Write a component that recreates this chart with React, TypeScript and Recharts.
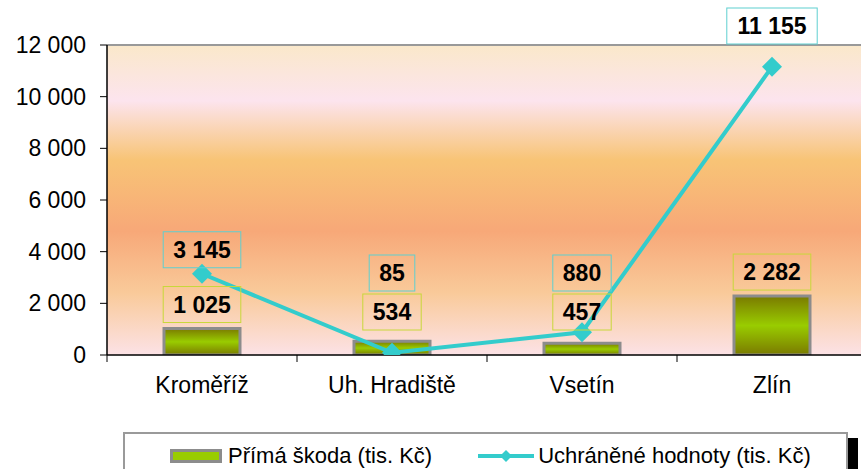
import React from "react";
import { ComposedChart, Bar, Line, XAxis, YAxis, CartesianGrid, ReferenceLine, LabelList, Legend } from "recharts";

const categories = ["Kroměříž", "Uh. Hradiště", "Vsetín", "Zlín"];
const directDamage = [1025, 534, 457, 2282];
const savedValues = [3145, 85, 880, 11155];
const yTicks = [0, 2000, 4000, 6000, 8000, 10000, 12000];

const data = categories.map((name, i) => ({ name, damage: directDamage[i], saved: savedValues[i] }));

const FONT = "'Liberation Sans', Arial, sans-serif";
const CHART_W = 870;
const CHART_H = 469;
const MARGIN = { top: 45, right: 3, left: 0, bottom: 19 };
const Y_AXIS_W = 107;
const PLOT_W = CHART_W - MARGIN.left - MARGIN.right - Y_AXIS_W;
const PLOT_TOP = 45;
const PLOT_BOTTOM = 355;
const Y_MAX = 12000;

const fmt = (v: number) => String(v).replace(/\B(?=(\d{3})+(?!\d))/g, " ");

// rough bold width for digit labels
const textW = (s: string) => s.split("").reduce((w, c) => w + (c === " " ? 6.4 : 12.8), 0);
const yPix = (v: number) => PLOT_BOTTOM - (v / Y_MAX) * (PLOT_BOTTOM - PLOT_TOP);
const BOX_H = 36;

const barBoxBottom = (top: number) => Math.min(top - 6, PLOT_BOTTOM - 25);

const LabelBox = ({ cx, bottom, text, color }: { cx: number; bottom: number; text: string; color: string }) => {
    const w = textW(text) + 20;
    // labels that would cross the top border go above the plot
    const b = bottom - BOX_H < PLOT_TOP ? PLOT_TOP - 1 : bottom;
    return (
        <g>
            <rect x={cx - w / 2} y={b - BOX_H} width={w} height={BOX_H} fill="none" stroke={color} strokeWidth={1} />
            <text x={cx} y={b - BOX_H / 2 + 8} textAnchor="middle" fontFamily={FONT} fontWeight="bold" fontSize={23} fill="#000">
                {text}
            </text>
        </g>
    );
};

const BarLabel = (props: any) => {
    const { x, y, width, value } = props;
    return <LabelBox cx={x + width / 2} bottom={barBoxBottom(y)} text={fmt(value)} color="#C8D83A" />;
};

const LineLabel = (props: any) => {
    const { x, y, value, index } = props;
    const barTop = barBoxBottom(yPix(directDamage[index])) - BOX_H;
    return <LabelBox cx={x} bottom={Math.min(y - 6, barTop - 3)} text={fmt(value)} color="#5ECFD0" />;
};

const DiamondDot = (props: any) => {
    const { cx, cy } = props;
    if (cx == null || cy == null) return null;
    const r = 10;
    return <polygon points={`${cx},${cy - r} ${cx + r},${cy} ${cx},${cy + r} ${cx - r},${cy}`} fill="#33CCCC" />;
};

const XTick = (props: any) => {
    const { x, y, payload, index } = props;
    const band = PLOT_W / categories.length;
    return (
        <g>
            <line x1={x - band / 2} y1={y} x2={x - band / 2} y2={y + 7} stroke="#000" />
            {index === categories.length - 1 && <line x1={x + band / 2} y1={y} x2={x + band / 2} y2={y + 7} stroke="#000" />}
            <text x={x} y={y + 38} textAnchor="middle" fontFamily={FONT} fontSize={23} fill="#000">
                {payload.value}
            </text>
        </g>
    );
};

const ChartLegend = () => (
    <div
        style={{
            width: 725,
            height: 45,
            boxSizing: "border-box",
            border: "2px solid #9a9a9a",
            background: "#fff",
            boxShadow: "10px 6px 0 #000",
            display: "flex",
            alignItems: "center",
            paddingLeft: 45,
            paddingTop: 3,
            fontFamily: FONT,
            fontSize: 22,
            lineHeight: "24px",
            color: "#000",
        }}
    >
        <svg width={52} height={14} style={{ marginRight: 6 }}>
            <rect x={1.5} y={1.5} width={49} height={11} fill="#99CC00" stroke="#8c8c8c" strokeWidth={3} />
        </svg>
        <span>Přímá škoda (tis. Kč)</span>
        <svg width={56} height={14} style={{ marginLeft: 46, marginRight: 4 }}>
            <line x1={0} y1={7} x2={56} y2={7} stroke="#33CCCC" strokeWidth={4} />
            <polygon points="28,1 34,7 28,13 22,7" fill="#33CCCC" />
        </svg>
        <span>Uchráněné hodnoty (tis. Kč)</span>
    </div>
);

export default function App() {
    return (
        <div style={{ position: "absolute", left: 0, top: 0, width: 861, height: 469, overflow: "hidden", background: "#fff" }}>
            <ComposedChart width={CHART_W} height={CHART_H} data={data} margin={MARGIN}>
                <defs>
                    <linearGradient id="bgGrad" x1="0" y1="0" x2="0" y2="1">
                        <stop offset="0%" stopColor="#FAE8CA" />
                        <stop offset="18%" stopColor="#FCE4EE" />
                        <stop offset="37%" stopColor="#F8C476" />
                        <stop offset="60%" stopColor="#F7A878" />
                        <stop offset="80%" stopColor="#F9CA9A" />
                        <stop offset="100%" stopColor="#FCE2E6" />
                    </linearGradient>
                    <linearGradient id="barGrad" x1="0" y1="0" x2="0" y2="1">
                        <stop offset="0%" stopColor="#7A7A00" />
                        <stop offset="50%" stopColor="#99CC00" />
                        <stop offset="100%" stopColor="#7A7A00" />
                    </linearGradient>
                </defs>
                <CartesianGrid fill="url(#bgGrad)" horizontal={false} vertical={false} stroke="none" />
                <ReferenceLine y={12000} stroke="#999" strokeWidth={2} />
                <XAxis
                    dataKey="name"
                    height={50}
                    tickSize={0}
                    tickMargin={0}
                    tickLine={false}
                    axisLine={{ stroke: "#000", strokeWidth: 1.5 }}
                    tick={<XTick />}
                    interval={0}
                />
                <YAxis
                    width={Y_AXIS_W}
                    domain={[0, Y_MAX]}
                    ticks={yTicks}
                    tickSize={7}
                    tickMargin={14}
                    tickFormatter={fmt}
                    axisLine={{ stroke: "#000", strokeWidth: 1.5 }}
                    tickLine={{ stroke: "#000" }}
                    tick={{ fontSize: 23, fontFamily: FONT, fill: "#000" }}
                    allowDataOverflow
                />
                <Legend
                    verticalAlign="bottom"
                    content={<ChartLegend />}
                    wrapperStyle={{ left: 123, top: 432, bottom: "auto", width: 735, height: 45 }}
                />
                <Bar dataKey="damage" barSize={76} fill="url(#barGrad)" stroke="#8c8c8c" strokeWidth={3} isAnimationActive={false}>
                    <LabelList dataKey="damage" content={<BarLabel />} />
                </Bar>
                <Line
                    type="linear"
                    dataKey="saved"
                    stroke="#33CCCC"
                    strokeWidth={4}
                    dot={<DiamondDot />}
                    activeDot={false}
                    isAnimationActive={false}
                >
                    <LabelList dataKey="saved" content={<LineLabel />} />
                </Line>
            </ComposedChart>
        </div>
    );
}
